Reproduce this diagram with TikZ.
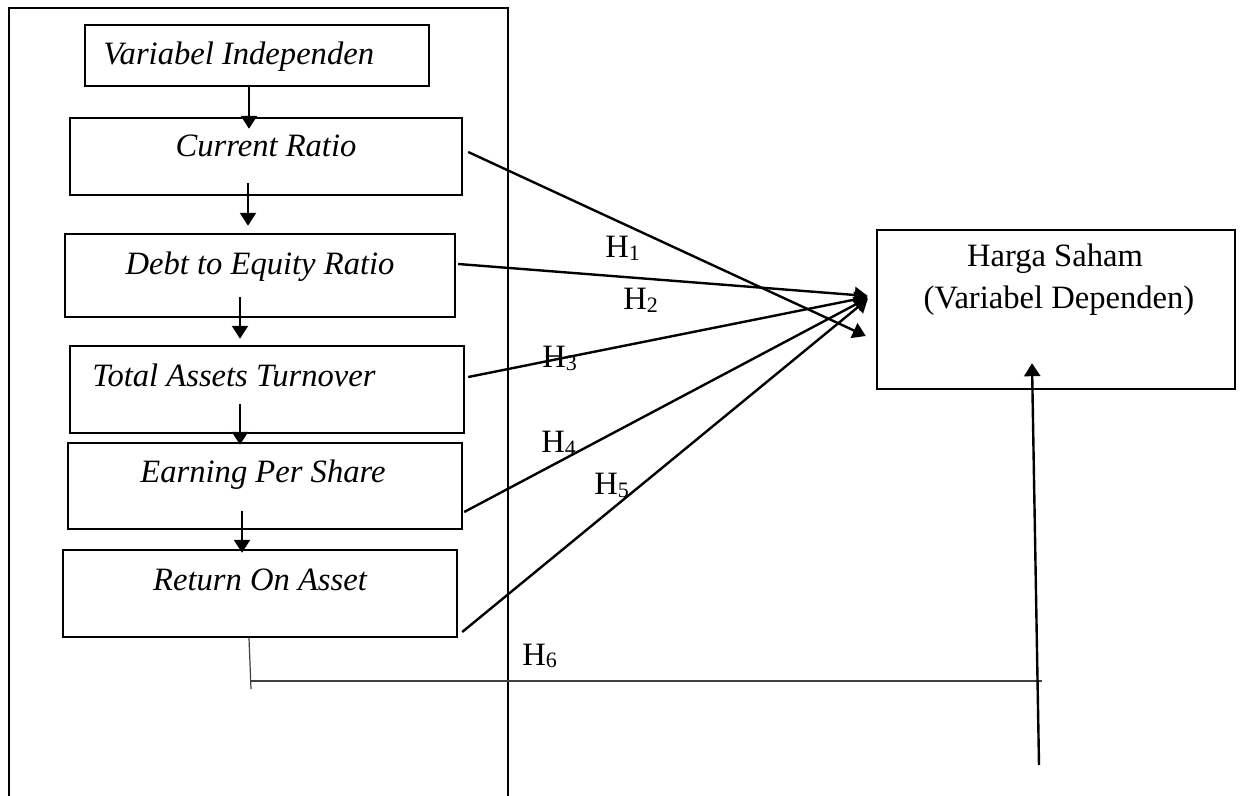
\documentclass[tikz,border=0pt]{standalone}
\usepackage{fontspec}
\setmainfont{Liberation Serif}
\usetikzlibrary{arrows.meta}
\newcommand\Hsub[1]{H\raisebox{-1.3pt}{\fontsize{11}{12}\selectfont #1}}
\begin{document}
\begin{tikzpicture}[x=0.5pt,y=-0.5pt,
  box/.style={draw,line width=1.2pt,inner sep=0pt},
  itl/.style={font=\fontsize{16.3}{19}\selectfont\itshape,inner sep=0pt},
  rml/.style={font=\fontsize{16.3}{19}\selectfont,inner sep=0pt},
  hl/.style={font=\fontsize{16.3}{19}\selectfont,anchor=base west,inner sep=0pt},
  arr/.style={line width=1.2pt,-{Triangle[length=6.5pt,width=8pt]}},
  thinline/.style={line width=0.6pt,draw=black!75}]
\useasboundingbox (0,0) rectangle (1243,796);
% outer frame
\draw[line width=1.2pt] (9,796) -- (9,8) -- (508,8) -- (508,796);
% boxes
\node[box,minimum width=172pt,minimum height=30.5pt] (vi) at (257,55.5) {};
\node[box,minimum width=196pt,minimum height=38.5pt] (cr) at (266,156.5) {};
\node[box,minimum width=195pt,minimum height=41.5pt] (de) at (260,275.5) {};
\node[box,minimum width=197pt,minimum height=43.5pt] (tat) at (267,389.5) {};
\node[box,minimum width=197pt,minimum height=43pt] (eps) at (265,486) {};
\node[box,minimum width=197pt,minimum height=43.5pt] (roa) at (260,593.5) {};
\node[box,minimum width=179pt,minimum height=79.5pt] (hs) at (1056,309.5) {};
% texts
\node[itl,anchor=base west] (vit) at (103,65) {Variabel Independen};
\node[itl,anchor=base] (crt) at (266,157) {Current Ratio};
\node[itl,anchor=base] (det) at (260,275) {Debt to Equity Ratio};
\node[itl,anchor=base west] (tatt) at (92,387) {Total Assets Turnover};
\node[itl,anchor=base] (epst) at (263,483) {Earning Per Share};
\node[itl,anchor=base] (roat) at (260,590) {Return On Asset};
\node[rml,anchor=base] (hst1) at (1055,267) {Harga Saham};
\node[rml,anchor=base] (hst2) at (1059,309) {(Variabel Dependen)};
% vertical arrows between boxes
\draw[arr] ([xshift=-4pt]vi.south) -- ([xshift=-8.5pt,yshift=-6pt]cr.north);
\draw[arr] ([xshift=-9pt,yshift=6.5pt]cr.south) -- ([xshift=-6pt,yshift=3.5pt]de.north);
\draw[arr] ([xshift=-10pt,yshift=10.5pt]de.south) -- ([xshift=-13.5pt,yshift=3pt]tat.north);
\draw[arr] ([xshift=-13.5pt,yshift=15pt]tat.south) -- ([xshift=-12.5pt,yshift=-1.5pt]eps.north);
\draw[arr] ([xshift=-11.5pt,yshift=9.5pt]eps.south) -- ([xshift=-9pt,yshift=-2pt]roa.north);
% hypothesis arrows
\draw[arr] ([xshift=2.5pt,yshift=2.25pt]cr.east) -- ([xshift=-5pt,yshift=-13.25pt]hs.west);
\draw[arr] ([xshift=1pt,yshift=5.75pt]de.east) -- ([xshift=-4pt,yshift=6.75pt]hs.west);
\draw[arr] ([xshift=1.5pt,yshift=6.25pt]tat.east) -- ([xshift=-4pt,yshift=6.25pt]hs.west);
\draw[arr] ([xshift=0.5pt,yshift=-13pt]eps.east) -- ([xshift=-4pt,yshift=5.75pt]hs.west);
\draw[arr] ([xshift=2pt,yshift=-19.25pt]roa.east) -- ([xshift=-4pt,yshift=5.25pt]hs.west);
% H6
\coordinate (h6a) at (251,689);
\coordinate (h6b) at (251,681);
\coordinate (h6c) at (1042,681);
\coordinate (b1) at (1039,765);
\draw[thinline] ([xshift=-5.5pt]roa.south) -- (h6a);
\draw[thinline] (h6b) -- (h6c);
\draw[arr] (b1) -- ([xshift=-12pt,yshift=13.5pt]hs.south);
% labels
\node[hl] (l1) at (605,258) {\Hsub{1}};
\node[hl] (l2) at (623,310) {\Hsub{2}};
\node[hl] (l3) at (542,368) {\Hsub{3}};
\node[hl] (l4) at (541,453) {\Hsub{4}};
\node[hl] (l5) at (594,495) {\Hsub{5}};
\node[hl] (l6) at (522,665) {\Hsub{6}};
\end{tikzpicture}
\end{document}
